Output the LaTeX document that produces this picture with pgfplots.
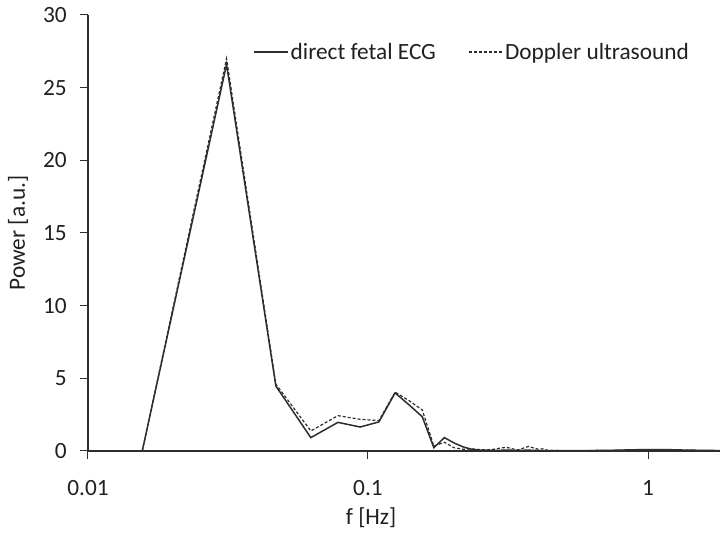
\documentclass[border=0pt]{standalone}
\usepackage{pgfplots}
\pgfplotsset{compat=1.18}
\usepackage{fontspec}
\setmainfont{Carlito}
\definecolor{txt}{RGB}{35,31,32}
\definecolor{ln}{RGB}{45,45,45}
\begin{document}
\begin{tikzpicture}
\begin{axis}[
  name=ax,
  scale only axis, width=632bp, height=436bp,
  xmode=log, xmin=0.01, xmax=1.808, ymin=0, ymax=30,
  axis x line=bottom, axis y line=left,
  axis line style={-, line width=1.1bp, color=ln},
  xtick={0.01,0.1,1}, xticklabels={0.01,0.1,1},
  ytick={0,5,10,15,20,25,30},
  /pgf/number format/assume math mode=true,
  xminorticks=false, yminorticks=false,
  tick align=outside, major tick length=8bp,
  tick style={line width=1bp, color=ln},
  ticklabel style={font=\fontsize{23.3bp}{28bp}\selectfont, text=txt, inner sep=0pt},
  xticklabel style={anchor=base, yshift=-37bp},
  yticklabel style={anchor=east, xshift=-13bp},
  xlabel={f [Hz]}, ylabel={Power [a.u.]},
  label style={font=\fontsize{23.3bp}{28bp}\selectfont, text=txt, inner sep=0pt},
  xlabel style={at={(rel axis cs:0.448,0)}, anchor=base, yshift=-74bp},
  ylabel style={at={(rel axis cs:0,0.5)}, anchor=base, yshift=63bp},
  clip=true,
  legend columns=2,
  legend style={draw=none, fill=none, at={(rel axis cs:0.2611,0.9151)}, anchor=west,
    inner sep=0pt, font=\fontsize{23.3bp}{28bp}\selectfont, text=txt,
    /tikz/every even column/.append style={column sep=30bp},
    nodes={inner sep=2bp}},
  legend image code/.code={\draw[#1] (0bp,0bp) -- (34bp,0bp);},
]
\addplot[color=ln, line width=1.5bp] coordinates {
(0.015625,0) (0.03125,26.6) (0.046875,4.47) (0.0625,0.92) (0.078125,1.97)
(0.09375,1.65) (0.109375,2.0) (0.125,4.0) (0.140625,3.15) (0.15625,2.36)
(0.171875,0.23) (0.1875,0.92) (0.203125,0.55) (0.21875,0.28) (0.234375,0.12)
(0.25,0.06) (0.265625,0.05) (0.28125,0.04) (0.296875,0.05) (0.3125,0.06)
(0.328125,0.05) (0.34375,0.04) (0.359375,0.05) (0.375,0.06) (0.390625,0.04)
(0.40625,0.03) (0.4375,0.03) (0.5,0.02) (0.5625,0.02) (0.625,0.03)
(0.75,0.05) (0.875,0.08) (1.0,0.1) (1.125,0.1) (1.25,0.08)
(1.375,0.06) (1.5,0.05) (1.625,0.04) (1.8125,0.03)
};
\addlegendentry{direct fetal ECG}
\addplot[color=ln, line width=1.2bp, dash pattern=on 3bp off 2bp] coordinates {
(0.015625,0) (0.03125,27.0) (0.046875,4.6) (0.0625,1.38) (0.078125,2.43)
(0.09375,2.18) (0.109375,2.09) (0.125,4.05) (0.140625,3.45) (0.15625,2.82)
(0.171875,0.34) (0.1875,0.6) (0.203125,0.22) (0.21875,0.12) (0.234375,0.15)
(0.25,0.1) (0.265625,0.08) (0.28125,0.12) (0.296875,0.2) (0.3125,0.25)
(0.328125,0.15) (0.34375,0.08) (0.359375,0.2) (0.375,0.32) (0.390625,0.2)
(0.40625,0.12) (0.421875,0.15) (0.4375,0.05) (0.46875,0.03) (0.5,0.02)
(0.5625,0.02) (0.625,0.03) (0.75,0.04) (0.875,0.06) (1.0,0.08)
(1.125,0.08) (1.25,0.06) (1.375,0.05) (1.5,0.04) (1.625,0.03) (1.8125,0.02)
};
\addlegendentry{Doppler ultrasound}
\end{axis}
\pgfresetboundingbox
\path ([xshift=-88bp,yshift=-82bp]ax.south west) rectangle ([yshift=15bp]ax.north east);
\end{tikzpicture}
\end{document}
